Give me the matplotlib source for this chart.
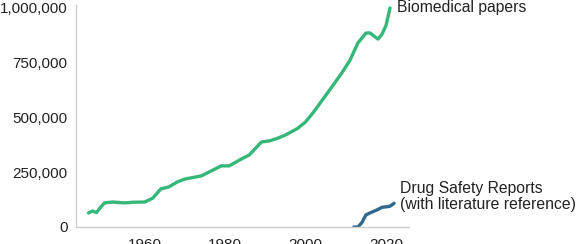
import matplotlib.pyplot as plt
from matplotlib.ticker import FuncFormatter

plt.rcParams['font.family'] = ['Liberation Sans', 'DejaVu Sans']

# biomedical papers per year
bio_years = [1946, 1947, 1948, 1949, 1950, 1952, 1955, 1957, 1960, 1962, 1964, 1966,
             1968, 1970, 1974, 1976, 1979, 1981, 1984, 1986, 1989, 1991, 1993, 1995,
             1998, 2000, 2002, 2006, 2009, 2011, 2013, 2015, 2016, 2018, 2019, 2020, 2021]
bio_vals = [64000, 73000, 66000, 90000, 110000, 114000, 110000, 113000, 114000, 132000,
            174000, 183000, 205000, 219000, 233000, 251000, 279000, 279000, 310000, 329000,
            388000, 393000, 405000, 420000, 450000, 480000, 525000, 626000, 703000, 760000,
            840000, 885000, 886000, 858000, 880000, 920000, 1000000]

# drug safety reports with literature reference
dsr_years = [2012, 2013, 2014, 2015, 2016, 2017, 2018, 2019, 2020, 2021, 2022]
dsr_vals = [0, 0, 20000, 55000, 64000, 72000, 80000, 90000, 92000, 95000, 108000]

xticks = [1960, 1980, 2000, 2020]
yticks = [0, 250000, 500000, 750000, 1000000]

green = '#35b779'
blue = '#31688e'

fig = plt.figure(figsize=(5.78, 2.44), dpi=100)
ax = fig.add_axes([0.1315, 0.0697, 0.576, 0.91])

ax.plot(bio_years, bio_vals, color=green, lw=2.4, solid_capstyle='round')
ax.plot(dsr_years, dsr_vals, color=blue, lw=2.4, solid_capstyle='round')

ax.set_xlim(1942.9, 2025.7)
ax.set_ylim(0, 1013700)
ax.set_xticks(xticks)
ax.set_yticks(yticks)
ax.yaxis.set_major_formatter(FuncFormatter(lambda v, p: f'{int(v):,}'))
ax.tick_params(length=0, labelsize=11, labelcolor='#222222', pad=8)
ax.tick_params(axis='y', pad=6)

for s in ['top', 'right']:
    ax.spines[s].set_visible(False)
for s in ['left', 'bottom']:
    ax.spines[s].set_color('#cccccc')
    ax.spines[s].set_linewidth(1)

ax.text(bio_years[-1] + 1.8, bio_vals[-1], 'Biomedical papers', fontsize=11.3,
        color='#222222', va='center', ha='left', clip_on=False)
ax.text(dsr_years[-1] + 1.5, dsr_vals[-1] + 30000, 'Drug Safety Reports\n(with literature reference)',
        fontsize=11.3, color='#222222', va='center', ha='left', clip_on=False, linespacing=1.05)

fig.savefig('out.png', dpi=100)
